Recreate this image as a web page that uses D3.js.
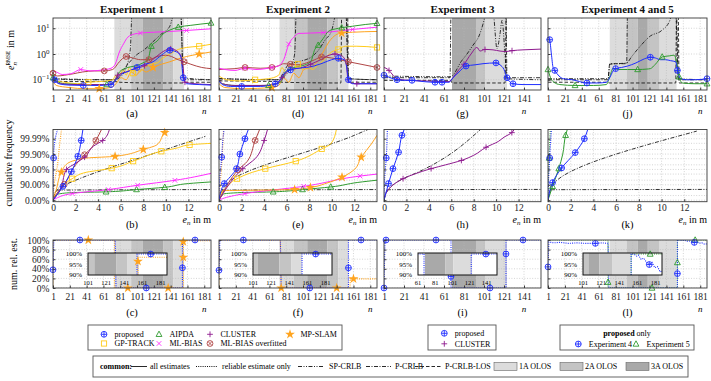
<!DOCTYPE html>
<html>
<head>
<meta charset="utf-8">
<script src="https://cdn.jsdelivr.net/npm/d3@7"></script>
<style>
  body { margin: 0; background: #fff; }
  svg { display: block; }
</style>
</head>
<body>
<script>
// ---------- data ----------
const titles = ['Experiment 1', 'Experiment 2', 'Experiment 3', 'Experiment 4 and 5'];
const nTicksLong = [1, 21, 41, 61, 81, 101, 121, 141, 161, 181];
const nTicksShort = [1, 21, 41, 61, 81, 101, 121, 141];
const eTicks = [0, 2, 4, 6, 8, 10, 12];
const rmseTicks = [0.1, 1, 10];
const cdfTicks = [0, 90, 99, 99.9, 99.99];
const cdfMinor = [50, 80, 95, 98, 99.5, 99.8, 99.95, 99.98, 99.995];
const relTicks = [0, 20, 40, 60, 80, 100];
const insetYTicks = [90, 95, 100];

// OLOS bands: [from n, to n, level 1A/2A/3A]
const bands1 = [[74, 94, 1], [94, 108, 2], [108, 132, 3], [132, 144, 2], [144, 157, 1]];
const bands2 = [[73, 90, 1], [90, 106, 2], [106, 130, 3], [130, 143, 2], [143, 155, 1]];
const bands3 = [[69, 93, 3], [93, 102, 2], [102, 124, 1]];
const bands4 = [[74, 94, 1], [94, 107, 2], [107, 119, 3], [119, 133, 2], [133, 153, 1]];

// RMSE vs n  ([n, metres, marker?])
const rmse1Proposed = [[1,0.13],[3,0.1,1],[8,0.07],[20,0.062],[37,0.06,1],[55,0.06],[70,0.065,1],[76,0.1],[82,0.16],[92,0.22],[101,0.3,1],[110,0.4],[120,0.5],[130,0.9],[140,1.4,1],[148,1.2],[153,0.8],[156,0.12,1],[160,0.07],[175,0.065],[189,0.062]];
const rmse1Cluster = [[1,0.14],[4,0.09],[10,0.07],[30,0.065],[60,0.065],[72,0.07],[78,0.15,1],[88,0.2],[100,0.28],[110,0.35,1],[122,0.7],[133,1.3],[141,1.6,1],[150,1.2],[155,0.5],[158,0.08,1],[170,0.07],[189,0.065]];
const rmse1Aipda = [[1,0.12,1],[5,0.09],[15,0.07],[40,0.065],[65,0.065,1],[73,0.08],[80,0.2],[90,0.3],[100,0.35],[108,0.45],[114,0.6],[118,2.0,1],[125,3.2],[132,6],[140,8.5],[150,11,1],[165,13],[189,16,1]];
const rmse1Mlbias = [[1,0.22],[5,0.2],[12,0.16],[22,0.17],[34,0.25,1],[45,0.22],[60,0.24],[70,0.28],[75,0.4],[80,1.2],[85,2.5],[90,4.5],[98,6],[105,6.5,1],[120,7],[140,7.5],[160,8.2,1],[189,9.5]];
const rmse1Mlbo = [[1,0.18,1],[6,0.14],[15,0.15],[25,0.17],[36,0.2],[50,0.22],[62,0.22,1],[72,0.25],[80,0.5],[88,0.8,1],[96,0.7],[105,0.6],[115,0.6,1],[125,0.8],[135,0.9],[142,0.8],[150,0.6],[157,0.5,1],[165,0.4],[178,0.3],[189,0.27]];
const rmse1Gptrack = [[1,0.12],[5,0.09],[15,0.08],[30,0.07],[43,0.08,1],[55,0.085],[65,0.09],[72,0.1],[76,0.15],[80,0.13],[84,0.25],[88,0.15],[92,0.3],[96,0.18,1],[100,0.35],[104,0.2],[110,0.3],[118,0.4],[125,0.45],[132,0.7],[140,1.0],[150,1.5],[160,1.8],[175,2.0,1],[189,2.4]];
const rmse1Mpslam = [[1,0.09],[5,0.06],[20,0.05],[40,0.045],[56,0.045,1],[70,0.05],[76,0.07],[82,0.12],[88,0.1],[94,0.2],[100,0.15],[106,0.25],[112,0.2],[120,0.3,1],[130,0.4],[140,0.5],[150,0.65],[160,0.8],[175,1.0,1],[189,1.2]];
const rmse1Los = [[1,0.09],[20,0.085],[75,0.085],[80,0.08],[120,0.075],[156,0.075],[160,0.08],[189,0.08]];
const rmse1Pcrlb = [[1,0.11],[30,0.1],[74,0.1],[80,0.12],[88,0.3],[93,1.5],[95,40],[153,40],[156,0.12],[160,0.1],[189,0.1]];
const rmse1Sp = [[1,0.11],[74,0.1],[80,0.15],[90,0.4],[100,0.9],[110,1.5],[120,3],[130,6],[140,12],[146,40],[153,40],[156,0.12],[189,0.1]];

const rmse2Proposed = [[1,0.09],[5,0.065],[15,0.055],[28,0.055,1],[50,0.055],[68,0.07,1],[74,0.1],[80,0.2],[86,0.24,1],[95,0.28],[105,0.3],[115,0.35],[125,0.45],[135,0.6],[143,0.68,1],[150,0.6],[153,0.3],[155,0.1,1],[160,0.07],[189,0.07]];
const rmse2Cluster = [[1,0.1],[5,0.07],[20,0.06],[50,0.06],[70,0.07],[76,0.12,1],[86,0.25],[100,0.3],[110,0.4,1],[122,0.6],[132,0.9],[139,1.0,1],[146,0.9],[152,0.5],[155,0.08],[165,0.07,1],[189,0.07]];
const rmse2Aipda = [[1,0.09],[5,0.07],[20,0.06],[60,0.06,1],[74,0.08],[80,0.2],[90,0.3],[100,0.35],[110,0.5],[115,1.5],[119,2.2,1],[125,4],[131,7.5],[140,9.5],[147,10.5,1],[160,12],[175,14],[189,15.5,1]];
const rmse2Mlbias = [[1,0.28],[8,0.25],[20,0.23],[32,0.28,1],[45,0.25],[64,0.3,1],[72,0.35],[78,0.6],[84,2.4,1],[90,4.5],[96,6.3],[110,6.5],[125,6.8,1],[143,7.8],[160,9,1],[189,11]];
const rmse2Mlbo = [[1,0.25],[10,0.26],[20,0.27],[32,0.3,1],[50,0.28],[64,0.3,1],[72,0.35],[78,0.42],[86,0.4,1],[95,0.38],[105,0.45],[115,0.6],[123,0.77,1],[135,0.7],[145,0.6],[155,0.5,1],[170,0.4],[189,0.3,1]];
const rmse2Gptrack = [[1,0.14],[10,0.1],[25,0.09],[44,0.1,1],[60,0.11],[72,0.15],[76,0.3],[80,0.2],[86,0.35],[90,0.22],[95,0.4,1],[100,0.25],[106,0.35],[112,0.25],[118,0.35],[126,0.6],[135,1.2],[143,1.5,1],[151,2.0],[165,2.0],[189,1.8,1]];
const rmse2Mpslam = [[1,0.07],[8,0.05],[30,0.045],[64,0.05,1],[72,0.06],[78,0.12],[84,0.08],[90,0.18],[96,0.12],[102,0.25],[110,0.3],[118,0.5],[125,1.2],[132,3],[140,5.5],[147,6.5,1],[160,7],[189,7.5]];
const rmse2Los = [[1,0.09],[70,0.085],[76,0.08],[146,0.075],[147,40],[154,40],[155,0.08],[189,0.08]];
const rmse2Pcrlb = [[1,0.11],[72,0.1],[78,0.13],[86,0.3],[91,1],[93,40],[152,40],[155,0.11],[189,0.1]];
const rmse2Sp = [[1,0.11],[72,0.1],[78,0.2],[84,0.4],[95,0.5],[111,0.77],[120,1.5],[127,3.4],[135,8],[141,40],[152,40],[155,0.11],[189,0.1]];

const rmse3Proposed = [[1,0.15,1],[5,0.13],[10,0.11],[14,0.1,1],[22,0.095],[29,0.095,1],[40,0.085],[52,0.08,1],[59,0.08,1],[66,0.08],[70,0.12],[76,0.2],[83,0.34,1],[92,0.38],[100,0.42],[113,0.45,1],[117,0.38],[121,0.25],[124,0.12,1],[130,0.07,1],[140,0.065],[158,0.065]];
const rmse3Cluster = [[1,0.3],[3,0.28],[6,0.23,1],[10,0.15],[14,0.11],[25,0.095],[40,0.09],[66,0.085],[70,0.12],[76,0.25],[81,0.4,1],[88,1.0],[94,1.8],[97,1.3],[102,1.5,1],[110,1.45],[117,1.3],[123,1.25],[129,1.35,1],[140,1.45],[158,1.55]];
const rmse3Los = [[1,0.095],[68,0.095],[69,0.075],[122,0.075],[123,40]];
const rmse3Pcrlb = [[1,0.12],[67,0.12],[68,40],[123,40],[124,0.12],[158,0.12]];
const rmse3Sp = [[1,0.14],[68,0.13],[70,0.15],[78,0.5],[84,1.0],[90,2.2],[96,5],[101,20],[103,40],[110,40],[114,1.6],[117,6],[119,20],[122,1],[124,0.11],[158,0.1]];

const rmse4Proposed = [[1,4.5],[3,3.6,1],[5,1.0],[7,0.3],[9,0.23,1],[14,0.14],[19,0.11],[30,0.1],[47,0.075,1],[60,0.075],[70,0.08],[74,0.12],[78,0.22],[81,0.27,1],[88,0.3],[95,0.34],[105,0.45],[115,0.65],[122,0.75,1],[128,0.7],[134,0.6],[140,0.6],[146,0.55],[152,0.5],[154,0.23,1],[158,0.11],[165,0.1],[175,0.1],[189,0.11,1]];
const rmse5Proposed = [[1,0.25,1],[4,0.12],[8,0.08],[15,0.065],[33,0.06,1],[55,0.06],[70,0.065],[74,0.13],[78,0.28],[84,0.25],[95,0.25],[107,0.25,1],[118,0.26],[122,0.27],[128,0.4],[136,0.77,1],[145,0.85],[150,0.9],[153,0.5],[155,0.2],[156,0.13,1],[160,0.075],[175,0.07],[189,0.07,1]];
const rmse4Los = [[1,0.08],[70,0.08],[74,0.075],[152,0.075],[153,40],[155,40],[156,0.075],[189,0.075]];
const rmse4Pcrlb = [[1,0.1],[72,0.1],[74,0.42],[94,0.42],[95,40],[153,40],[155,0.1],[189,0.1]];
const rmse4Sp = [[1,0.11],[72,0.11],[74,0.4],[94,0.45],[100,0.8],[110,2.0],[122,5],[135,8],[145,20],[148,40],[152,40],[155,0.11],[189,0.1]];

// cumulative frequency ([error in m, percent, marker?])
const cdf1Proposed = [[0,0],[0.5,68],[0.88,87.4,1],[1.63,98.6,1],[2.2,99.86,1],[2.5,99.987,1],[2.65,99.9975]];
const cdf1ProposedRel = [[0,0],[0.02,90],[0.05,99.82,1],[0.2,99.99],[0.4,99.9975]];
const cdf1Cluster = [[0,0],[0.6,75],[1.2,99,1],[2.0,99.6],[2.8,99.84,1],[3.6,99.97],[4.4,99.987,1],[5.0,99.9975]];
const cdf1Mlbo = [[0,0],[0.6,80],[1.0,90.7,1],[1.8,99.2],[2.8,99.89,1],[3.4,99.96],[3.8,99.987,1],[4.3,99.9975]];
const cdf1Mpslam = [[0,0],[0.3,80],[0.74,98.5,1],[1.3,99.6],[2,99.75],[3,99.82],[5.5,99.86,1],[8,99.95,1],[9.2,99.975],[9.9,99.996,1],[10.2,99.9975]];
const cdf1MpslamRel = [[0,0],[0.1,90],[0.4,99.5],[0.6,99.98],[0.75,99.9975]];
const cdf1Gptrack = [[0,0],[0.5,70],[1.7,96,1],[3,98.5],[4.2,98.9],[5.2,99.17,1],[7.1,99.71,1],[9.6,99.934,1],[11,99.96],[12.1,99.975,1],[14,99.98]];
const cdf1Aipda = [[0,0],[0.3,55],[1,65],[2.5,69],[4.7,71.2,1],[7.4,79.6,1],[9.9,85.5,1],[12,91.7],[14,93.5]];
const cdf1Mlbias = [[0,0],[0.3,25],[1.7,62.8,1],[4.9,79.6,1],[7.5,89.3,1],[10.8,94.9,1],[14,98.2]];
const cdf1Pcrlb = [[0,0],[0.5,84],[1.7,93.7],[10,99.95],[13.5,99.993]];
const cdf1Sp = [[0,0],[0.3,77.6],[14,79.6]];

const cdf2Proposed = [[0,0],[0.47,91.7,1],[1.0,97],[1.55,99.11,1],[1.85,99.9,1],[2.3,99.99,1],[2.6,99.9975]];
const cdf2ProposedRel = [[0,0],[0.05,95],[0.24,99.84,1],[0.35,99.99],[0.45,99.9975]];
const cdf2Mlbo = [[0,0],[0.6,85],[1.2,97],[1.7,98.95,1],[2.5,99.7],[3.2,99.987,1],[3.6,99.9975]];
const cdf2Cluster = [[0,0],[0.7,85],[1.4,97],[2.1,99.11,1],[3.2,99.8],[4.0,99.987,1],[4.3,99.9975]];
const cdf2Gptrack = [[0,0],[0.5,80],[1.6,96,1],[3,98.5],[4.1,99.11,1],[6.8,99.71,1],[9.1,99.954,1],[9.9,99.978],[10.4,99.9975]];
const cdf2Mpslam = [[0,0],[0.3,76],[2,77],[5,78.5],[6.7,79.6,1],[8.1,85,1],[9.5,92],[10.9,96.8,1],[12,99],[12.6,99.84,1],[13.5,99.978],[14,99.994]];
const cdf2MpslamRel = [[0,0],[0.1,90],[0.3,99.9],[0.4,99.9975]];
const cdf2Mlbias = [[0,0],[0.3,20],[2.3,62.8,1],[7.5,87.4,1],[12.5,97.3,1],[14,98]];
const cdf2Aipda = [[0,0],[0.4,60],[2,68],[4.8,71.2,1],[7.4,79.6,1],[9.9,86.2,1],[12.3,93],[14,95]];
const cdf2Pcrlb = [[0,0],[0.8,92.8],[12,99.994],[13.2,99.9975]];
const cdf2Sp = [[0,0],[0.3,77.6],[14,79.6]];

const cdf3Proposed = [[0,0],[0.4,91.7,1],[0.8,99.11,1],[1.3,99.924,1],[1.6,99.994,1],[1.8,99.9975]];
const cdf3ProposedRel = [[0,0],[0.05,95],[0.2,99.82,1],[0.3,99.9975]];
const cdf3Cluster = [[0,0],[0.3,75],[1.0,92],[1.7,96,1],[2.8,98.1],[4.2,99.11,1],[5.5,99.5],[6.9,99.74,1],[8,99.88],[9.1,99.964,1],[10.2,99.985],[10.7,99.992],[11.4,99.996,1],[11.6,99.9975]];
const cdf3Pcrlb = [[0,0],[0.5,84],[1.7,96],[2.8,98.2],[8.6,99.9975]];
const cdf3Sp = [[0,0],[0.3,79],[14,80]];

const cdf4Proposed = [[0,0],[0.4,92.8,1],[1.2,99.2,1],[2.4,99.92,1],[3.2,99.99,1],[3.5,99.9975]];
const cdf4ProposedRel = [[0,0],[0.05,95],[0.15,99.82,1],[0.3,99.9975]];
const cdf5Proposed = [[0,0],[0.4,87.4,1],[0.95,99.11,1],[1.3,99.9],[1.55,99.994,1],[1.7,99.9975]];
const cdf5ProposedRel = [[0,0],[0.03,95],[0.1,99.82,1],[0.2,99.9975]];
const cdf4Pcrlb = [[0,0],[0.4,89.3],[13.1,99.9968]];
const cdf4Sp = [[0,0],[0.3,79],[14,80]];

// number of reliable estimates ([n, percent, marker?])
const rel1Proposed = [[1,38,1],[2,100],[33,100,1],[75,100],[76,0],[112,0,1],[155,0],[155,42,1],[155,100],[170,100,1],[189,100]];
const rel1Mpslam = [[1,0],[1,100],[43,100,1],[74,100],[74,0],[90,0,1],[138,0,1],[156,0],[156,64,1],[156,96.5,1],[156,98.5],[189,98.5]];
const rel2Proposed = [[1,37,1],[2,100],[30,100,1],[74,100],[75,0],[109,0,1],[155,0],[155,42,1],[155,100],[170,100,1],[189,100]];
const rel2Mpslam = [[1,0],[1,100],[74,100],[75,0,1],[141,0,1],[157,0],[157,19],[161,19,1],[189,19]];
const rel3Proposed = [[1,0,1],[2,100],[3,100,1],[53,100,1],[68,100],[68,24,1],[68,0],[107,0,1],[123,0],[123,71,1],[123,100],[140,100,1],[158,100]];
const rel4Proposed = [[1,44,1],[2,96],[8,94],[15,95],[25,93],[35,94],[45,93],[57,93,1],[65,94],[72,93],[73,0],[154,0],[154,30,1],[154,100],[157,100],[160,99],[162,99.5],[165,97.5],[168,98],[171,96],[174,95,1],[177,96],[180,93.5],[183,94],[186,91.5],[189,92]];
const rel5Proposed = [[1,100],[72,100],[72,12,1],[72,0],[124,0,1],[154,0],[154,53,1],[154,100],[175,100,1],[189,100]];

// legend labels
const methodLegend = [['proposed','proposed'],['aipda','AIPDA'],['cluster','CLUSTER'],['mpslam','MP-SLAM'],['gptrack','GP-TRACK'],['mlbias','ML-BIAS'],['mlbo','ML-BIAS overfitted']];
const exp3Legend = [['proposed','proposed'],['cluster','CLUSTER']];
const exp45Legend = [['exp4','Experiment 4'],['exp5','Experiment 5']];
const commonLegend = ['all estimates','reliable estimate only','SP-CRLB','P-CRLB','P-CRLB-LOS'];
const olosLegend = ['1A OLOS','2A OLOS','3A OLOS'];

// ---------- styles ----------
const FONT = '"Liberation Serif", "DejaVu Serif", serif';
const styles = {
  proposed: {c: '#1f2eff', mk: 'oplus'},
  exp4: {c: '#1f2eff', mk: 'oplus'},
  aipda: {c: '#2f9b2f', mk: 'tri'},
  exp5: {c: '#2f9b2f', mk: 'tri'},
  cluster: {c: '#8e1a8e', mk: 'plus'},
  mpslam: {c: '#ffa41f', mk: 'star'},
  gptrack: {c: '#ffcb1a', mk: 'square'},
  mlbias: {c: '#ff2bff', mk: 'cross'},
  mlbo: {c: '#b04646', mk: 'otimes'},
  sp: {c: '#111', dash: '4,1.5,1,1.5,1,1.5'},
  pcrlb: {c: '#111', dash: '4,1.5,1,1.5'},
  los: {c: '#111', dash: '3.5,2'}
};
const bandFill = {1: '#dcdcdc', 2: '#c4c4c4', 3: '#a9a9a9'};

const W = 711, H = 381;
const svg = d3.select('body').append('svg').attr('width', W).attr('height', H)
  .attr('font-family', FONT);
svg.append('rect').attr('width', W).attr('height', H).attr('fill', '#fff');
const defs = svg.append('defs');

const rowTop = [18, 90], rowMid = [129.5, 201.7], rowBot = [240, 288];

const cols = [
  {x0: 53, x1: 211, nMax: 189, ticks: nTicksLong, bands: bands1,
   top: [['sp', rmse1Sp], ['pcrlb', rmse1Pcrlb], ['los', rmse1Los], ['mpslam', rmse1Mpslam], ['gptrack', rmse1Gptrack], ['mlbo', rmse1Mlbo], ['mlbias', rmse1Mlbias], ['aipda', rmse1Aipda], ['cluster', rmse1Cluster], ['proposed', rmse1Proposed]],
   mid: [['sp', cdf1Sp], ['pcrlb', cdf1Pcrlb], ['aipda', cdf1Aipda], ['mlbias', cdf1Mlbias], ['gptrack', cdf1Gptrack], ['mpslam', cdf1Mpslam], ['mpslam', cdf1MpslamRel, true], ['mlbo', cdf1Mlbo], ['cluster', cdf1Cluster], ['proposed', cdf1Proposed], ['proposed', cdf1ProposedRel, true]],
   bot: [['mpslam', rel1Mpslam, true], ['proposed', rel1Proposed, true]],
   inset: {x0: 88, x1: 167, dom: [101, 188], ticks: [101, 121, 141, 161, 181]},
   subs: ['(a)', '(b)', '(c)']},
  {x0: 219, x1: 377, nMax: 189, ticks: nTicksLong, bands: bands2,
   top: [['sp', rmse2Sp], ['pcrlb', rmse2Pcrlb], ['los', rmse2Los], ['mpslam', rmse2Mpslam], ['gptrack', rmse2Gptrack], ['mlbo', rmse2Mlbo], ['mlbias', rmse2Mlbias], ['aipda', rmse2Aipda], ['cluster', rmse2Cluster], ['proposed', rmse2Proposed]],
   mid: [['sp', cdf2Sp], ['pcrlb', cdf2Pcrlb], ['aipda', cdf2Aipda], ['mlbias', cdf2Mlbias], ['gptrack', cdf2Gptrack], ['mpslam', cdf2Mpslam], ['mpslam', cdf2MpslamRel, true], ['mlbo', cdf2Mlbo], ['cluster', cdf2Cluster], ['proposed', cdf2Proposed], ['proposed', cdf2ProposedRel, true]],
   bot: [['mpslam', rel2Mpslam, true], ['proposed', rel2Proposed, true]],
   inset: {x0: 253, x1: 332, dom: [101, 188], ticks: [101, 121, 141, 161, 181]},
   subs: ['(d)', '(e)', '(f)']},
  {x0: 384, x1: 541, nMax: 158, ticks: nTicksShort, bands: bands3,
   top: [['sp', rmse3Sp], ['pcrlb', rmse3Pcrlb], ['los', rmse3Los], ['cluster', rmse3Cluster], ['proposed', rmse3Proposed]],
   mid: [['sp', cdf3Sp], ['pcrlb', cdf3Pcrlb], ['cluster', cdf3Cluster], ['proposed', cdf3Proposed], ['proposed', cdf3ProposedRel, true]],
   bot: [['proposed', rel3Proposed, true]],
   inset: {x0: 418, x1: 497, dom: [61, 153], ticks: [61, 81, 101, 121, 141]},
   subs: ['(g)', '(h)', '(i)']},
  {x0: 548, x1: 707, nMax: 189, ticks: nTicksLong, bands: bands4,
   top: [['sp', rmse4Sp], ['pcrlb', rmse4Pcrlb], ['los', rmse4Los], ['exp5', rmse5Proposed], ['exp4', rmse4Proposed]],
   mid: [['sp', cdf4Sp], ['pcrlb', cdf4Pcrlb], ['exp5', cdf5Proposed], ['exp5', cdf5ProposedRel, true], ['exp4', cdf4Proposed], ['exp4', cdf4ProposedRel, true]],
   bot: [['exp5', rel5Proposed, true], ['exp4', rel4Proposed, true]],
   inset: {x0: 583, x1: 662, dom: [101, 188], ticks: [101, 121, 141, 161, 181]},
   subs: ['(j)', '(k)', '(l)']}
];

// ---------- helpers ----------
let clipCount = 0;
function clipped(x0, x1, y0, y1) {
  const id = 'clip' + (clipCount++);
  defs.append('clipPath').attr('id', id).append('rect')
    .attr('x', x0).attr('y', y0).attr('width', x1 - x0).attr('height', y1 - y0);
  return svg.append('g').attr('clip-path', `url(#${id})`);
}

function marker(g, type, x, y, c) {
  const r = 2.9;
  const s = g.append('g').attr('transform', `translate(${x},${y})`)
    .attr('stroke', c).attr('stroke-width', 0.9).attr('fill', 'none');
  if (type === 'oplus') {
    s.append('circle').attr('r', r);
    s.append('path').attr('d', `M${-r},0H${r}M0,${-r}V${r}`);
  } else if (type === 'otimes') {
    const q = r * 0.7;
    s.append('circle').attr('r', r);
    s.append('path').attr('d', `M${-q},${-q}L${q},${q}M${-q},${q}L${q},${-q}`);
  } else if (type === 'tri') {
    s.append('path').attr('d', `M0,${-r * 1.1}L${r},${r * 0.75}L${-r},${r * 0.75}Z`);
  } else if (type === 'plus') {
    s.append('path').attr('d', `M${-r},0H${r}M0,${-r}V${r}`);
  } else if (type === 'cross') {
    const k = r * 0.8;
    s.append('path').attr('d', `M${-k},${-k}L${k},${k}M${-k},${k}L${k},${-k}`);
  } else if (type === 'square') {
    s.append('rect').attr('x', -r * 0.9).attr('y', -r * 0.9).attr('width', r * 1.8).attr('height', r * 1.8);
  } else if (type === 'star') {
    s.append('path').attr('d', d3.symbol().type(d3.symbolStar).size(30)()).attr('fill', c).attr('stroke', 'none');
  }
}

function drawLine(layer, data, xs, ys, key, rel, curve) {
  const st = styles[key];
  const line = d3.line().x(d => xs(d[0])).y(d => ys(d[1])).curve(curve);
  layer.append('path').attr('d', line(data)).attr('fill', 'none')
    .attr('stroke', st.c).attr('stroke-width', rel ? 1.1 : (st.dash ? 0.85 : 1))
    .attr('stroke-dasharray', rel ? '1,1.2' : (st.dash || null));
}

function drawMarkers(layer, data, xs, ys, key, inside) {
  const st = styles[key];
  if (!st.mk) return;
  data.filter(d => d[2] && inside(d)).forEach(d => marker(layer, st.mk, xs(d[0]), ys(d[1]), st.c));
}

function drawBands(layer, bands, xs, y0, y1) {
  bands.forEach(b => layer.append('rect')
    .attr('x', xs(b[0])).attr('width', xs(b[1]) - xs(b[0]))
    .attr('y', y0).attr('height', y1 - y0).attr('fill', bandFill[b[2]]));
}

function grid(layer, xs, xv, ys, yv, x0, x1, y0, y1) {
  const g = layer.append('g').attr('stroke', '#b9b9b9').attr('stroke-width', 0.6).attr('stroke-dasharray', '1,1.6');
  xv.forEach(v => g.append('line').attr('x1', xs(v)).attr('x2', xs(v)).attr('y1', y0).attr('y2', y1));
  yv.forEach(v => g.append('line').attr('x1', x0).attr('x2', x1).attr('y1', ys(v)).attr('y2', ys(v)));
}

function frame(x0, x1, y0, y1) {
  svg.append('rect').attr('x', x0).attr('y', y0).attr('width', x1 - x0).attr('height', y1 - y0)
    .attr('fill', 'none').attr('stroke', '#3a3a3a').attr('stroke-width', 0.9);
}

function styleAxis(a, size) {
  a.attr('font-family', FONT).attr('font-size', size);
  a.select('.domain').remove();
  a.selectAll('line').attr('stroke', '#3a3a3a');
  a.selectAll('text').attr('fill', '#1a1a1a');
}

function xAxis(xs, y, ticks, pad) {
  const a = svg.append('g').attr('transform', `translate(0,${y})`)
    .call(d3.axisBottom(xs).tickValues(ticks).tickSize(-2.5).tickPadding(pad));
  styleAxis(a, 9.5);
}

function yAxis(ys, x, ticks, fmt, labels) {
  const a = svg.append('g').attr('transform', `translate(${x},0)`)
    .call(d3.axisLeft(ys).tickValues(ticks).tickSize(-2.5).tickPadding(3.5).tickFormat(labels ? fmt : () => ''));
  styleAxis(a, 9.5);
  return a;
}

const nines = p => -Math.log10(1 - p / 100);

// ---------- panels ----------
cols.forEach((col, ci) => {
  const xN = d3.scaleLinear().domain([1, col.nMax]).range([col.x0, col.x1]);
  const xE = d3.scaleLinear().domain([0, 14]).range([col.x0, col.x1]);
  const cx = (col.x0 + col.x1) / 2;
  const lastTick = col.ticks[col.ticks.length - 1];

  svg.append('text').attr('x', cx).attr('y', 12.5).attr('text-anchor', 'middle')
    .attr('font-size', 11).attr('font-weight', 'bold').attr('fill', '#111').text(titles[ci]);

  // --- top: RMSE ---
  const yR = d3.scaleLog().domain([0.04, 25]).range([rowTop[1], rowTop[0]]);
  const top = clipped(col.x0, col.x1, rowTop[0], rowTop[1]);
  drawBands(top, col.bands, xN, rowTop[0], rowTop[1]);
  grid(top, xN, col.ticks, yR, rmseTicks, col.x0, col.x1, rowTop[0], rowTop[1]);
  col.top.forEach(([k, d]) => drawLine(top, d, xN, yR, k, false, d3.curveMonotoneX));
  col.top.forEach(([k, d]) => drawMarkers(svg, d, xN, yR, k, p => p[1] <= 25 && p[1] >= 0.04));
  frame(col.x0, col.x1, rowTop[0], rowTop[1]);
  xAxis(xN, rowTop[1], col.ticks, 5.5);
  const ya = yAxis(yR, col.x0, rmseTicks, () => '10', ci === 0);
  if (ci === 0) {
    ya.selectAll('.tick text').each(function (d) {
      d3.select(this).append('tspan').attr('dy', -4).attr('font-size', 7)
        .text(String(Math.round(Math.log10(d))).replace('-', '\u2212'));
    });
  }
  svg.append('text').attr('x', cx).attr('y', 117).attr('text-anchor', 'middle').attr('font-size', 10.5).text(col.subs[0]);
  svg.append('text').attr('x', xN(lastTick)).attr('y', 113.5).attr('text-anchor', 'middle')
    .attr('font-size', 9).attr('font-style', 'italic').text('n');

  // --- middle: cumulative frequency ---
  const yT = d3.scaleLinear().domain([-0.1, 4.6]).range([rowMid[1], rowMid[0]]);
  const yP = p => yT(nines(p));
  const mid = clipped(col.x0, col.x1, rowMid[0], rowMid[1]);
  grid(mid, xE, eTicks, yP, cdfTicks.concat(cdfMinor), col.x0, col.x1, rowMid[0], rowMid[1]);
  col.mid.forEach(([k, d, rel]) => drawLine(mid, d, xE, yP, k, rel, d3.curveMonotoneY));
  col.mid.forEach(([k, d]) => drawMarkers(svg, d, xE, yP, k, p => p[0] <= 14));
  frame(col.x0, col.x1, rowMid[0], rowMid[1]);
  xAxis(xE, rowMid[1], eTicks, 2.2);
  yAxis(yT, col.x0, cdfTicks.map(nines), t => (100 * (1 - Math.pow(10, -t))).toFixed(2) + '%', ci === 0);
  svg.append('text').attr('x', cx).attr('y', 227.5).attr('text-anchor', 'middle').attr('font-size', 10.5).text(col.subs[1]);
  const el = svg.append('text').attr('x', col.x1).attr('y', 223).attr('text-anchor', 'end').attr('font-size', 10);
  el.append('tspan').attr('font-style', 'italic').text('e');
  el.append('tspan').attr('font-style', 'italic').attr('font-size', 7).attr('dy', 2).text('n');
  el.append('tspan').attr('dy', -2).text(' in m');

  // --- bottom: reliable estimates ---
  const yQ = d3.scaleLinear().domain([0, 100]).range([rowBot[1], rowBot[0]]);
  const bot = clipped(col.x0, col.x1, rowBot[0], rowBot[1]);
  drawBands(bot, col.bands, xN, rowBot[0], rowBot[1]);
  grid(bot, xN, col.ticks, yQ, relTicks, col.x0, col.x1, rowBot[0], rowBot[1]);
  col.bot.forEach(([k, d, rel]) => drawLine(bot, d, xN, yQ, k, rel, d3.curveLinear));
  col.bot.forEach(([k, d]) => drawMarkers(svg, d, xN, yQ, k, () => true));
  frame(col.x0, col.x1, rowBot[0], rowBot[1]);
  xAxis(xN, rowBot[1], col.ticks, 5.5);
  yAxis(yQ, col.x0, relTicks, d => d + '%', ci === 0);
  svg.append('text').attr('x', cx).attr('y', 315.5).attr('text-anchor', 'middle').attr('font-size', 10.5).text(col.subs[2]);
  svg.append('text').attr('x', xN(lastTick)).attr('y', 311.5).attr('text-anchor', 'middle')
    .attr('font-size', 9).attr('font-style', 'italic').text('n');

  // inset zoom on 90..100 %
  const ins = col.inset;
  const iy0 = 253, iy1 = 275;
  const xI = d3.scaleLinear().domain(ins.dom).range([ins.x0, ins.x1]);
  const yI = d3.scaleLinear().domain([90, 100.5]).range([iy1, iy0]);
  svg.append('rect').attr('x', ins.x0).attr('y', iy0).attr('width', ins.x1 - ins.x0).attr('height', iy1 - iy0).attr('fill', '#fff');
  const il = clipped(ins.x0, ins.x1, iy0, iy1);
  drawBands(il, col.bands, xI, iy0, iy1);
  col.bot.forEach(([k, d, rel]) => drawLine(il, d, xI, yI, k, rel, d3.curveLinear));
  col.bot.forEach(([k, d]) => drawMarkers(svg, d, xI, yI, k, p => p[1] >= 90 && p[0] >= ins.dom[0] && p[0] <= ins.dom[1]));
  svg.append('rect').attr('x', ins.x0).attr('y', iy0).attr('width', ins.x1 - ins.x0).attr('height', iy1 - iy0)
    .attr('fill', 'none').attr('stroke', '#111').attr('stroke-width', 1);
  ins.ticks.forEach(t => svg.append('text').attr('x', xI(t)).attr('y', 284.5).attr('text-anchor', 'middle')
    .attr('font-size', 6.5).text(t));
  insetYTicks.forEach(t => svg.append('text').attr('x', ins.x0 - 6).attr('y', yI(t) + 2.3).attr('text-anchor', 'end')
    .attr('font-size', 7).text(t + '%'));
});

// y axis titles
const yl1 = svg.append('text').attr('transform', 'translate(14,50) rotate(-90)').attr('text-anchor', 'middle').attr('font-size', 10);
yl1.append('tspan').attr('font-style', 'italic').text('e');
yl1.append('tspan').attr('font-style', 'italic').attr('font-size', 7).attr('dy', 2.5).text('n');
yl1.append('tspan').attr('font-size', 5.5).attr('dx', -3.5).attr('dy', -7).text('RMSE');
yl1.append('tspan').attr('dy', 4.5).text(' in m');
svg.append('text').attr('transform', 'translate(12,163) rotate(-90)').attr('text-anchor', 'middle').attr('font-size', 10).text('cumulative frequency');
svg.append('text').attr('transform', 'translate(17,264) rotate(-90)').attr('text-anchor', 'middle').attr('font-size', 10).text('num. rel. est.');

// ---------- legends ----------
function box(x0, y0, x1, y1) {
  svg.append('rect').attr('x', x0).attr('y', y0).attr('width', x1 - x0).attr('height', y1 - y0)
    .attr('fill', '#fff').attr('stroke', '#555').attr('stroke-width', 0.9);
}
function legendItem(key, label, x, y) {
  marker(svg, styles[key].mk, x, y, styles[key].c);
  svg.append('text').attr('x', x + 10.5).attr('y', y + 2.7).attr('font-size', 8).text(label);
}

box(88, 325, 342, 350);
const legX = [104, 159, 210, 290];
methodLegend.forEach(([k, label], i) => legendItem(k, label, legX[i % 4], i < 4 ? 334.3 : 343.5));

box(428, 325, 496, 350);
exp3Legend.forEach(([k, label], i) => legendItem(k, label, 444.3, 333.3 + i * 10.5));

box(560, 325, 694, 350);
const pt = svg.append('text').attr('x', 627).attr('y', 336).attr('text-anchor', 'middle').attr('font-size', 8);
pt.append('tspan').attr('font-weight', 'bold').text('proposed');
pt.append('tspan').text(' only');
exp45Legend.forEach(([k, label], i) => legendItem(k, label, 578.3 + i * 57.7, 344));

// common legend
box(93, 356, 688, 377);
const ly = 366.5;
svg.append('text').attr('x', 100).attr('y', ly + 2.8).attr('font-size', 8).attr('font-weight', 'bold').text('common:');
const lineSamples = [[131, 147, null, 150], [196, 218, '1,1.2', 222], [298, 324, styles.sp.dash, 329], [366, 391, styles.pcrlb.dash, 395], [415, 441, styles.los.dash, 445]];
lineSamples.forEach(([a, b, dash, tx], i) => {
  svg.append('line').attr('x1', a).attr('x2', b).attr('y1', ly).attr('y2', ly)
    .attr('stroke', '#111').attr('stroke-width', dash === '1,1.2' ? 1.2 : 0.9).attr('stroke-dasharray', dash);
  svg.append('text').attr('x', tx).attr('y', ly + 2.8).attr('font-size', 8).text(commonLegend[i]);
});
[[494, 1], [560, 2], [626, 3]].forEach(([x, lvl], i) => {
  svg.append('rect').attr('x', x).attr('y', ly - 4).attr('width', 23).attr('height', 8)
    .attr('fill', bandFill[lvl]).attr('stroke', '#666').attr('stroke-width', 0.6);
  svg.append('text').attr('x', x + 25).attr('y', ly + 2.8).attr('font-size', 8).text(olosLegend[i]);
});
</script>
</body>
</html>
